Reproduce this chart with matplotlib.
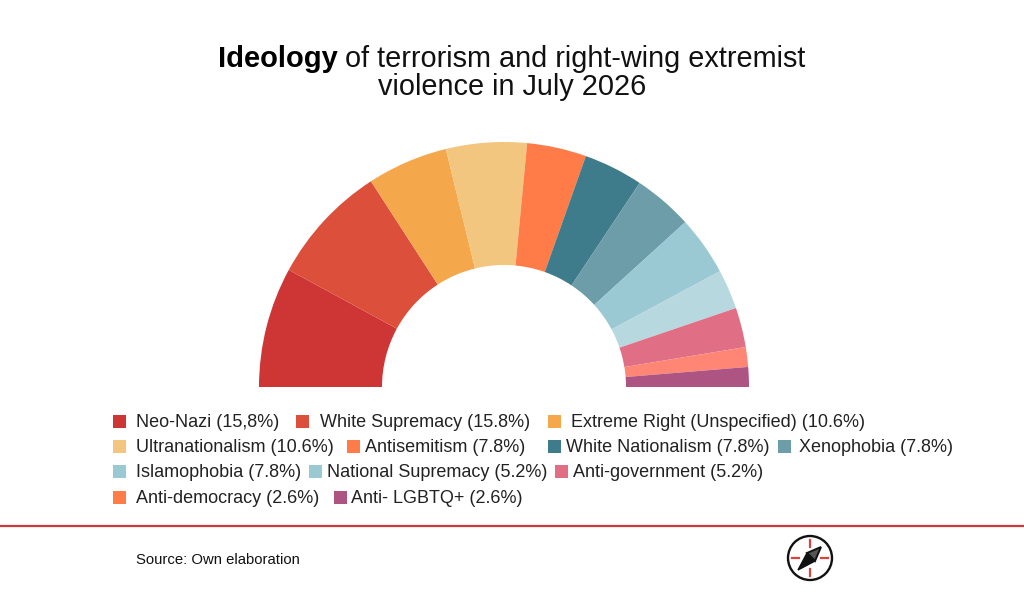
import matplotlib
matplotlib.use("Agg")
import matplotlib.pyplot as plt
from matplotlib.patches import Circle, Rectangle, Polygon

plt.rcParams['font.family'] = ['Liberation Sans', 'DejaVu Sans']

categories = ["Neo-Nazi", "White Supremacy", "Extreme Right (Unspecified)", "Ultranationalism",
              "Antisemitism", "White Nationalism", "Xenophobia", "Islamophobia",
              "National Supremacy", "Anti-government", "Anti-democracy", "Anti- LGBTQ+"]
values = [15.8, 15.8, 10.6, 10.6, 7.8, 7.8, 7.8, 7.8, 5.2, 5.2, 2.6, 2.6]
value_labels = ["15,8%", "15.8%", "10.6%", "10.6%", "7.8%", "7.8%", "7.8%", "7.8%",
                "5.2%", "5.2%", "2.6%", "2.6%"]
slice_colors = ["#CE3535", "#DB4F3B", "#F5A74B", "#F2C67E", "#FF7B48", "#3E7C8C",
                "#6C9DA9", "#9AC9D4", "#B7D8DF", "#E06F86", "#FF8674", "#AD5482"]
legend_colors = ["#CE3535", "#DB4F3B", "#F5A74B", "#F2C67E", "#FF7B48", "#3E7C8C",
                 "#6C9DA9", "#9AC9D4", "#9AC9D4", "#E06F86", "#FF7B48", "#AD5482"]
# legend layout in pixels: square x, text x, row y
legend_layout = [(113, 136, 421), (296, 320, 421), (548, 571, 421),
                 (113, 136, 446), (347, 365, 446), (548, 566, 446), (778, 799, 446),
                 (113, 136, 471), (309, 327, 471), (555, 573, 471),
                 (113, 136, 497), (334, 351, 497)]

W, H = 1024, 594
fig = plt.figure(figsize=(W / 100, H / 100), dpi=100, facecolor="white")
ax = fig.add_axes([0, 0, 1, 1])

def Y(y):
    return H - y

total = sum(values)
ax.pie([v / (2 * total) for v in values], colors=slice_colors, startangle=180,
       counterclock=False, normalize=False, radius=245, center=(504, Y(387)),
       wedgeprops=dict(width=123, linewidth=0))
ax.set_xlim(0, W)
ax.set_ylim(0, H)
ax.set_aspect("auto")
ax.axis("off")

TITLE = 20.8
ax.text(218, Y(67), "Ideology", fontsize=21, fontweight="bold", ha="left", va="baseline", color="black")
ax.text(345, Y(67), "of terrorism and right-wing extremist", fontsize=TITLE, ha="left", va="baseline", color="#111111")
ax.text(512, Y(95), "violence in July 2026", fontsize=TITLE, ha="center", va="baseline", color="#111111")

for cat, lab, col, (sx, tx, ry) in zip(categories, value_labels, legend_colors, legend_layout):
    ax.add_patch(Rectangle((sx, Y(ry) - 6.5), 13, 13, facecolor=col, edgecolor="none"))
    ax.text(tx, Y(ry + 6), f"{cat} ({lab})", fontsize=13, ha="left", va="baseline", color="#222222")

ax.plot([0, W], [Y(526), Y(526)], color="#D0383A", lw=1.6, solid_capstyle="butt")
ax.text(136, Y(564), "Source: Own elaboration", fontsize=10.75, ha="left", va="baseline", color="#111111")

# compass icon
cx, cy = 810, Y(558)
ax.add_patch(Circle((cx, cy), 22, facecolor="none", edgecolor="#111111", lw=1.7))
for dx, dy in [(0, 1), (0, -1), (1, 0), (-1, 0)]:
    ax.plot([cx + dx * 11, cx + dx * 18], [cy + dy * 11, cy + dy * 18], color="#D8433B", lw=1.6)
ax.add_patch(Polygon([(cx + 11, cy + 11), (cx - 3, cy + 5), (cx + 5, cy - 3)],
                     facecolor="#555555", edgecolor="#111111", lw=1.4))
ax.add_patch(Polygon([(cx - 12, cy - 12), (cx - 3, cy + 5), (cx + 5, cy - 3)],
                     facecolor="#111111", edgecolor="#111111", lw=1))

fig.savefig("out.png", dpi=100, facecolor="white")
